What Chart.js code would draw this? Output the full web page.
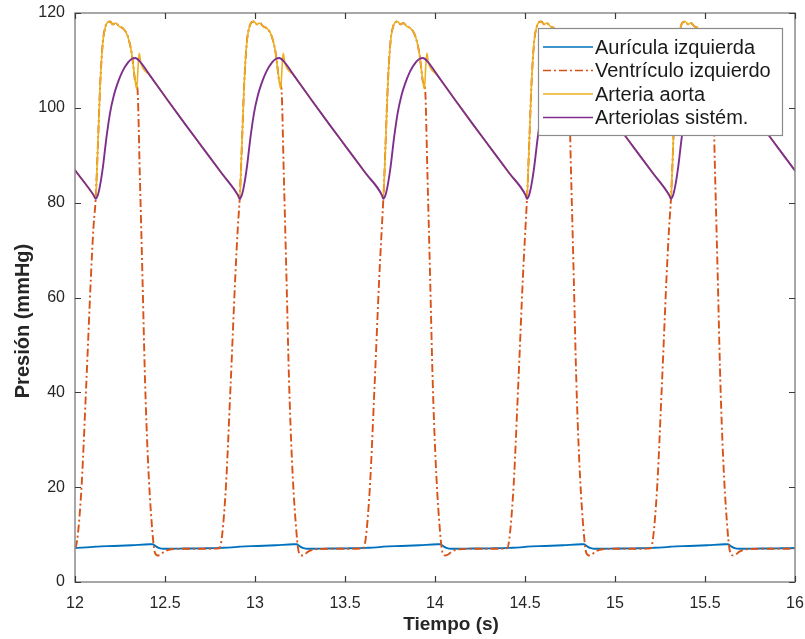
<!DOCTYPE html>
<html>
<head>
<meta charset="utf-8">
<script src="https://cdn.jsdelivr.net/npm/chart.js@4/dist/chart.umd.min.js"></script>
<style>
    html, body { margin: 0; padding: 0; background: #fff; }
    #presiones { display: block; }
</style>
</head>
<body>
<canvas id="presiones" width="805" height="639"></canvas>
<script>
const beatOnsets = [11.313, 12.115, 12.915, 13.713, 14.511, 15.311];

// One heartbeat of each signal: time since onset (s) and pressure (mmHg).
const auriculaT = [0, 0.1, 0.2, 0.3, 0.315, 0.335, 0.35, 0.38, 0.5, 0.6, 0.7, 0.79];
const auriculaP = [7.45, 7.6, 7.75, 7.95, 7.95, 7.5, 7.2, 7.0, 7.05, 7.1, 7.2, 7.4];

const ventriculoT = [0, 0.006, 0.013, 0.025, 0.04, 0.055, 0.065, 0.08, 0.095, 0.11, 0.13, 0.15, 0.17, 0.185,
    0.2, 0.21, 0.22, 0.232, 0.245, 0.26, 0.274, 0.29, 0.31, 0.329, 0.345, 0.36, 0.38, 0.42, 0.5, 0.6,
    0.687, 0.72, 0.75, 0.775, 0.79];
const ventriculoP = [80.8, 86, 93, 105, 114, 117.2, 118.0, 118.2, 117.6, 117.9, 117.2, 116.8, 115.8, 114.2,
    111.5, 108.5, 105.5, 104, 86, 64, 42.6, 26, 13, 6.2, 5.6, 5.8, 6.4, 6.9, 7.0, 7.0,
    7.1, 18, 42, 64, 75];

const aortaT = [0, 0.006, 0.013, 0.025, 0.04, 0.055, 0.065, 0.08, 0.095, 0.11, 0.13, 0.15, 0.17, 0.185,
    0.2, 0.21, 0.22, 0.228, 0.236, 0.242, 0.25, 0.3, 0.4, 0.5, 0.6, 0.7, 0.79];
const aortaP = [80.8, 86, 93, 105, 114, 117.2, 118.0, 118.2, 117.6, 117.9, 117.2, 116.8, 115.8, 114.2,
    111.5, 108.5, 105.5, 104.0, 109.0, 111.5, 109.6, 106.9, 101.6, 96.4, 91.3, 86.2, 81.6];

const arteriolasT = [0, 0.012, 0.025, 0.04, 0.06, 0.08, 0.1, 0.12, 0.15, 0.18, 0.2, 0.22, 0.245,
    0.3, 0.4, 0.5, 0.6, 0.7, 0.79];
const arteriolasP = [80.8, 81.6, 83.8, 87.5, 93.8, 99.0, 102.5, 105.0, 107.8, 109.6, 110.3, 110.5, 109.8,
    106.9, 101.6, 96.4, 91.3, 86.2, 81.6];

const seriesNames = ["Aurícula izquierda", "Ventrículo izquierdo", "Arteria aorta", "Arteriolas sistém."];
const seriesColors = ["#0072BD", "#D95319", "#EDB120", "#7E2F8E"];

const xTicks = [12, 12.5, 13, 13.5, 14, 14.5, 15, 15.5, 16];
const yTicks = [0, 20, 40, 60, 80, 100, 120];

const FONT = "'Liberation Sans', Arial, Helvetica, sans-serif";
const TEXT_COLOR = "#262626";

// Lay one beat down at every onset.
function repeatBeat(times, values) {
    const points = [];
    for (const t0 of beatOnsets) {
        for (let i = 0; i < times.length; i++) {
            points.push({x: +(t0 + times[i]).toFixed(4), y: values[i]});
        }
    }
    return points;
}

const redDash = [8, 3, 2, 3];

// Box, inward ticks, legend and axis titles, drawn the way MATLAB does.
const matlabFrame = {
    id: "matlabFrame",
    afterDatasetsDraw(chart) {
        const {ctx, chartArea: a} = chart;
        const x = chart.scales.x, y = chart.scales.y;
        ctx.save();

        ctx.strokeStyle = "#8a8a8a";
        ctx.lineWidth = 1.5;
        ctx.strokeRect(a.left, a.top, a.right - a.left, a.bottom - a.top);

        ctx.strokeStyle = "#3a3a3a";
        ctx.lineWidth = 1.2;
        ctx.beginPath();
        for (const v of xTicks) {
            const px = Math.round(x.getPixelForValue(v)) + 0.5;
            ctx.moveTo(px, a.bottom); ctx.lineTo(px, a.bottom - 6);
            ctx.moveTo(px, a.top); ctx.lineTo(px, a.top + 6);
        }
        for (const v of yTicks) {
            const py = Math.round(y.getPixelForValue(v)) + 0.5;
            ctx.moveTo(a.left, py); ctx.lineTo(a.left + 6, py);
            ctx.moveTo(a.right, py); ctx.lineTo(a.right - 6, py);
        }
        ctx.stroke();

        // Legend box in the top right corner.
        const box = {left: 538, top: 28, right: 782, bottom: 135};
        ctx.fillStyle = "#ffffff";
        ctx.fillRect(box.left, box.top, box.right - box.left, box.bottom - box.top);
        ctx.strokeStyle = "#8a8a8a";
        ctx.lineWidth = 1.2;
        ctx.strokeRect(box.left + 0.5, box.top + 0.5, box.right - box.left, box.bottom - box.top);

        ctx.font = "20px " + FONT;
        ctx.textBaseline = "middle";
        ctx.textAlign = "left";
        seriesNames.forEach((name, i) => {
            const rowY = 47 + i * 23.5;
            ctx.strokeStyle = seriesColors[i];
            ctx.lineWidth = 1.6;
            ctx.setLineDash(i === 1 ? redDash : []);
            ctx.beginPath();
            ctx.moveTo(543, rowY);
            ctx.lineTo(593, rowY);
            ctx.stroke();
            ctx.setLineDash([]);
            ctx.fillStyle = "#1a1a1a";
            ctx.fillText(name, 595, rowY + 1);
        });

        // Axis titles.
        ctx.fillStyle = TEXT_COLOR;
        ctx.font = "bold 19px " + FONT;
        ctx.textAlign = "center";
        ctx.fillText("Tiempo (s)", 451, 625);
        ctx.font = "bold 20px " + FONT;
        ctx.translate(23, 321);
        ctx.rotate(-Math.PI / 2);
        ctx.fillText("Presión (mmHg)", 0, 0);

        ctx.restore();
    }
};

function build() {
    const ctx = document.getElementById("presiones");
    const lineData = [
        repeatBeat(auriculaT, auriculaP),
        repeatBeat(ventriculoT, ventriculoP),
        repeatBeat(aortaT, aortaP),
        repeatBeat(arteriolasT, arteriolasP),
    ];

    new Chart(ctx, {
        type: "line",
        data: {
            datasets: seriesNames.map((name, i) => ({
                label: name,
                data: lineData[i],
                borderColor: seriesColors[i],
                borderWidth: i === 2 ? 1.6 : 1.9,
                borderDash: i === 1 ? redDash : [],
                pointRadius: 0,
                cubicInterpolationMode: "monotone",
                // MATLAB draws later series on top.
                order: 4 - i,
            })),
        },
        options: {
            responsive: false,
            animation: false,
            devicePixelRatio: 1,
            layout: {padding: {top: 13, right: 10, left: 0, bottom: 0}},
            plugins: {
                legend: {display: false},
                tooltip: {enabled: false},
            },
            scales: {
                x: {
                    type: "linear",
                    min: 12,
                    max: 16,
                    grid: {display: false, drawTicks: false},
                    border: {display: false},
                    afterBuildTicks: scale => { scale.ticks = xTicks.map(v => ({value: v})); },
                    afterFit: scale => {
                        scale.height = 57;
                        scale.paddingLeft = 0;
                        scale.paddingRight = 0;
                    },
                    ticks: {
                        padding: 12,
                        color: TEXT_COLOR,
                        font: {family: FONT, size: 16},
                        maxRotation: 0,
                        autoSkip: false,
                        callback: v => String(v),
                    },
                },
                y: {
                    min: 0,
                    max: 120,
                    grid: {display: false, drawTicks: false},
                    border: {display: false},
                    afterBuildTicks: scale => { scale.ticks = yTicks.map(v => ({value: v})); },
                    afterFit: scale => {
                        scale.width = 75;
                        scale.paddingTop = 0;
                        scale.paddingBottom = 0;
                    },
                    ticks: {
                        padding: 10,
                        color: TEXT_COLOR,
                        font: {family: FONT, size: 16},
                        callback: v => String(v),
                    },
                },
            },
        },
        plugins: [matlabFrame],
    });
}

build();
</script>
</body>
</html>
